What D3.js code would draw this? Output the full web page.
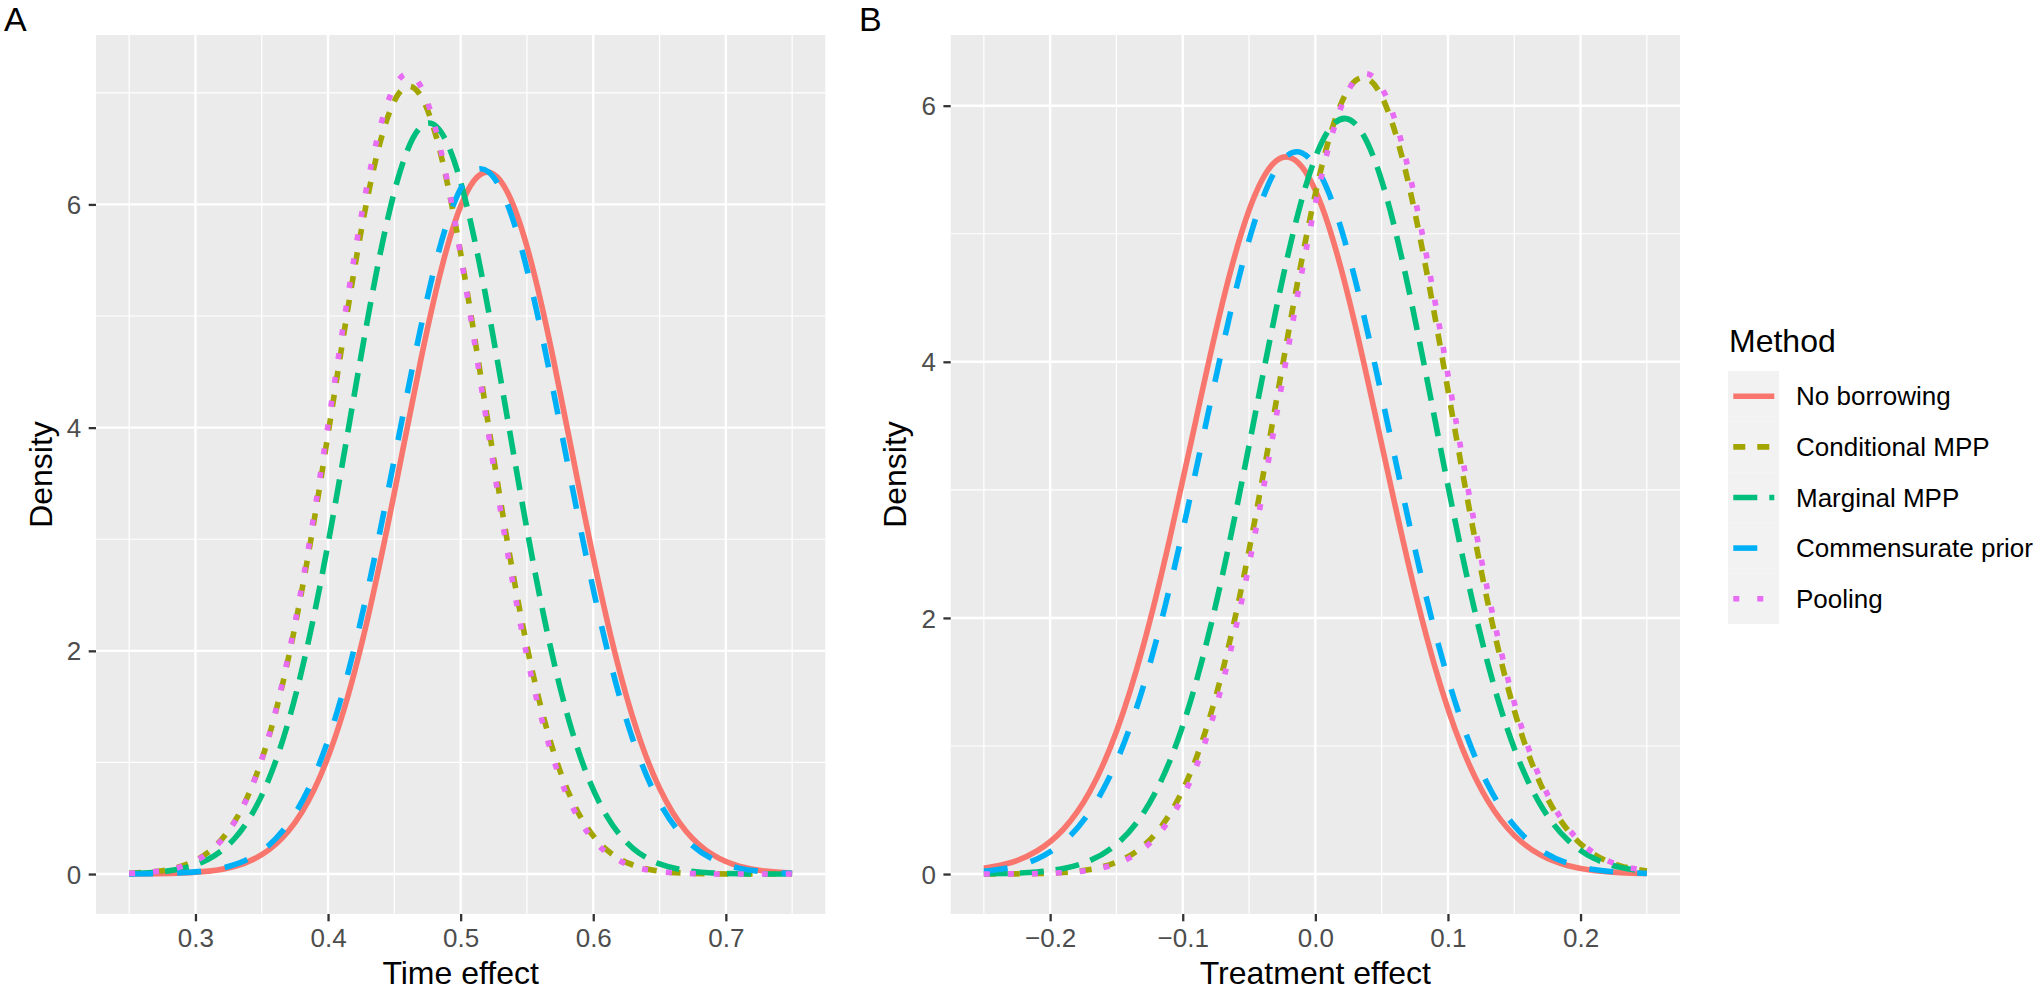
<!DOCTYPE html>
<html>
<head>
<meta charset="utf-8">
<script src="https://cdn.jsdelivr.net/npm/d3@7"></script>
<style>
  html, body { margin: 0; padding: 0; background: #ffffff; }
  svg { display: block; font-family: "Liberation Sans", Arial, Helvetica, sans-serif; }
</style>
</head>
<body>
<svg id="chart" width="2040" height="989"></svg>
<script>
// ---------------- data ----------------
const methods = ["No borrowing", "Conditional MPP", "Marginal MPP", "Commensurate prior", "Pooling"];

// Panel A: Time effect
const timeX = [0.25,0.27,0.29,0.31,0.33,0.35,0.37,0.39,0.41,0.43,0.45,0.47,0.49,0.51,0.53,0.55,0.57,0.59,0.61,0.63,0.65,0.67,0.69,0.71,0.73,0.75];
const timeNoBorrowing   = [0.000,0.003,0.009,0.026,0.070,0.173,0.383,0.769,1.396,2.296,3.418,4.609,5.623,6.212,6.212,5.623,4.609,3.418,2.296,1.396,0.769,0.383,0.173,0.070,0.026,0.009];
const timeConditional   = [0.007,0.023,0.072,0.199,0.480,1.025,1.930,3.204,4.698,6.074,6.927,6.971,6.189,4.847,3.349,2.042,1.098,0.521,0.218,0.081,0.026,0.008,0.002,0.000,0.000,0.000];
const timeMarginal      = [0.005,0.016,0.049,0.134,0.325,0.705,1.362,2.351,3.623,4.982,6.114,6.696,6.545,5.710,4.446,3.089,1.916,1.061,0.524,0.231,0.091,0.032,0.010,0.003,0.001,0.000];
const timeCommensurate  = [0.001,0.003,0.011,0.032,0.086,0.207,0.451,0.889,1.582,2.551,3.718,4.902,5.843,6.300,6.144,5.419,4.322,3.118,2.035,1.201,0.641,0.309,0.135,0.053,0.019,0.006];
const timePooling       = [0.006,0.022,0.069,0.193,0.476,1.028,1.952,3.264,4.799,6.206,7.056,7.056,6.206,4.799,3.264,1.952,1.028,0.476,0.193,0.069,0.022,0.006,0.001,0.000,0.000,0.000];

// Panel B: Treatment effect
const treatX = [-0.25,-0.23,-0.21,-0.19,-0.17,-0.15,-0.13,-0.11,-0.09,-0.07,-0.05,-0.03,-0.01,0.01,0.03,0.05,0.07,0.09,0.11,0.13,0.15,0.17,0.19,0.21,0.23,0.25];
const treatNoBorrowing  = [0.045,0.088,0.180,0.350,0.645,1.113,1.773,2.609,3.549,4.462,5.183,5.565,5.521,5.062,4.289,3.358,2.430,1.625,1.004,0.573,0.302,0.148,0.067,0.028,0.011,0.004];
const treatConditional  = [0.000,0.001,0.004,0.012,0.036,0.092,0.217,0.465,0.901,1.585,2.528,3.661,4.808,5.729,6.193,6.073,5.404,4.362,3.195,2.122,1.279,0.699,0.347,0.156,0.064,0.024];
const treatMarginal     = [0.002,0.006,0.016,0.043,0.105,0.232,0.471,0.877,1.496,2.337,3.346,4.389,5.275,5.808,5.859,5.415,4.585,3.558,2.529,1.647,0.982,0.537,0.269,0.123,0.052,0.020];
const treatCommensurate = [0.021,0.052,0.118,0.250,0.488,0.877,1.456,2.232,3.155,4.114,4.951,5.497,5.631,5.323,4.642,3.735,2.774,1.900,1.201,0.700,0.377,0.187,0.086,0.036,0.014,0.005];
const treatPooling      = [0.000,0.001,0.003,0.011,0.031,0.081,0.195,0.424,0.835,1.491,2.414,3.542,4.709,5.676,6.201,6.141,5.511,4.484,3.306,2.210,1.339,0.735,0.366,0.165,0.068,0.025];

// ticks
const timeXTicks = [0.3, 0.4, 0.5, 0.6, 0.7];
const timeXTickLabels = ["0.3", "0.4", "0.5", "0.6", "0.7"];
const timeXMinor = [0.25, 0.35, 0.45, 0.55, 0.65, 0.75];
const treatXTicks = [-0.2, -0.1, 0.0, 0.1, 0.2];
const treatXTickLabels = ["\u22120.2", "\u22120.1", "0.0", "0.1", "0.2"];
const treatXMinor = [-0.25, -0.15, -0.05, 0.05, 0.15, 0.25];
const yTicks = [0, 2, 4, 6];
const yTickLabels = ["0", "2", "4", "6"];
const timeYMinor = [1, 3, 5, 7];
const treatYMinor = [1, 3, 5];

// ---------------- styles ----------------
const colors = ["#F8766D", "#A3A500", "#00BF7D", "#00B0F6", "#E76BF3"];
const dashes = [null, "12,12", "24,12", "24,24", "6,18"];
const LW = 5.6;

const svg = d3.select("#chart");

function panel(opts) {
  const { left, right, top, bottom, xDomain, yDomain, xs, series, xTicks, xTickLabels, xMinor, yMinor, xTitle, tag, tagX } = opts;
  const x = d3.scaleLinear().domain(xDomain).range([left, right]);
  const y = d3.scaleLinear().domain(yDomain).range([bottom, top]);
  const g = svg.append("g");

  g.append("rect").attr("x", left).attr("y", top).attr("width", right - left).attr("height", bottom - top).attr("fill", "#EBEBEB");

  // minor grid
  g.selectAll(".vminor").data(xMinor).enter().append("line")
    .attr("x1", d => x(d)).attr("x2", d => x(d)).attr("y1", top).attr("y2", bottom)
    .attr("stroke", "#ffffff").attr("stroke-width", 1.2);
  g.selectAll(".hminor").data(yMinor).enter().append("line")
    .attr("y1", d => y(d)).attr("y2", d => y(d)).attr("x1", left).attr("x2", right)
    .attr("stroke", "#ffffff").attr("stroke-width", 1.2);
  // major grid
  g.selectAll(".vmajor").data(xTicks).enter().append("line")
    .attr("x1", d => x(d)).attr("x2", d => x(d)).attr("y1", top).attr("y2", bottom)
    .attr("stroke", "#ffffff").attr("stroke-width", 2.4);
  g.selectAll(".hmajor").data(yTicks).enter().append("line")
    .attr("y1", d => y(d)).attr("y2", d => y(d)).attr("x1", left).attr("x2", right)
    .attr("stroke", "#ffffff").attr("stroke-width", 2.4);

  // curves
  const line = d3.line().x(d => x(d[0])).y(d => y(d[1])).curve(d3.curveNatural);
  series.forEach((vals, i) => {
    const pts = xs.map((xv, k) => [xv, vals[k]]);
    const p = g.append("path").attr("d", line(pts)).attr("fill", "none")
      .attr("stroke", colors[i]).attr("stroke-width", LW)
      .attr("stroke-linecap", "butt").attr("stroke-linejoin", "round");
    if (dashes[i]) p.attr("stroke-dasharray", dashes[i]);
  });

  // x axis
  const xAxis = d3.axisBottom(x).tickValues(xTicks).tickFormat((d, i) => xTickLabels[i]).tickSize(7.3).tickSizeOuter(0);
  const gx = g.append("g").attr("transform", `translate(0,${bottom})`).call(xAxis);
  gx.select(".domain").remove();
  gx.selectAll(".tick line").attr("stroke", "#333333").attr("stroke-width", 2.3);
  gx.selectAll(".tick text").attr("y", 32.7).attr("dy", null).attr("fill", "#4D4D4D")
    .style("font-size", "26px").style("font-family", "'Liberation Sans', Arial, sans-serif");

  // y axis
  const yAxis = d3.axisLeft(y).tickValues(yTicks).tickFormat((d, i) => yTickLabels[i]).tickSize(7.3).tickSizeOuter(0);
  const gy = g.append("g").attr("transform", `translate(${left},0)`).call(yAxis);
  gy.select(".domain").remove();
  gy.selectAll(".tick line").attr("stroke", "#333333").attr("stroke-width", 2.3);
  gy.selectAll(".tick text").attr("x", -14.8).attr("dy", "0.35em").attr("fill", "#4D4D4D")
    .style("font-size", "26px").style("font-family", "'Liberation Sans', Arial, sans-serif");

  // titles
  g.append("text").attr("x", (left + right) / 2).attr("y", 983.5).attr("text-anchor", "middle")
    .attr("font-size", 32).attr("fill", "#000").text(xTitle);
  g.append("text").attr("transform", `translate(${left - 44.5},${(top + bottom) / 2}) rotate(-90)`)
    .attr("text-anchor", "middle").attr("font-size", 32).attr("fill", "#000").text("Density");
  g.append("text").attr("x", tagX).attr("y", 31).attr("font-size", 34).attr("fill", "#000").text(tag);
}

panel({
  left: 96, right: 825.3, top: 35, bottom: 914,
  xDomain: [0.225, 0.775], yDomain: [-0.358, 7.518],
  xs: timeX,
  series: [timeNoBorrowing, timeConditional, timeMarginal, timeCommensurate, timePooling],
  xTicks: timeXTicks, xTickLabels: timeXTickLabels, xMinor: timeXMinor, yMinor: timeYMinor,
  xTitle: "Time effect", tag: "A", tagX: 4
});

panel({
  left: 950.7, right: 1680, top: 35, bottom: 914,
  xDomain: [-0.275, 0.275], yDomain: [-0.312, 6.552],
  xs: treatX,
  series: [treatNoBorrowing, treatConditional, treatMarginal, treatCommensurate, treatPooling],
  xTicks: treatXTicks, xTickLabels: treatXTickLabels, xMinor: treatXMinor, yMinor: treatYMinor,
  xTitle: "Treatment effect", tag: "B", tagX: 859
});

// ---------------- legend ----------------
const lg = svg.append("g");
lg.append("text").attr("x", 1729).attr("y", 352).attr("font-size", 32).attr("fill", "#000").text("Method");
const rowH = 50.6, keyTop = 371;
const rows = lg.selectAll(".row").data(methods).enter().append("g");
rows.append("rect").attr("x", 1728).attr("y", (d, i) => keyTop + i * rowH).attr("width", 51).attr("height", rowH)
  .attr("fill", "#F2F2F2");
rows.append("line").attr("x1", 1733.3).attr("x2", 1774.3)
  .attr("y1", (d, i) => keyTop + i * rowH + rowH / 2).attr("y2", (d, i) => keyTop + i * rowH + rowH / 2)
  .attr("stroke", (d, i) => colors[i]).attr("stroke-width", LW).attr("stroke-linecap", "butt")
  .attr("stroke-dasharray", (d, i) => dashes[i]);
rows.append("text").attr("x", 1796).attr("y", (d, i) => keyTop + i * rowH + rowH / 2).attr("dy", "0.35em")
  .attr("font-size", 26).attr("fill", "#000").text(d => d);
</script>
</body>
</html>
